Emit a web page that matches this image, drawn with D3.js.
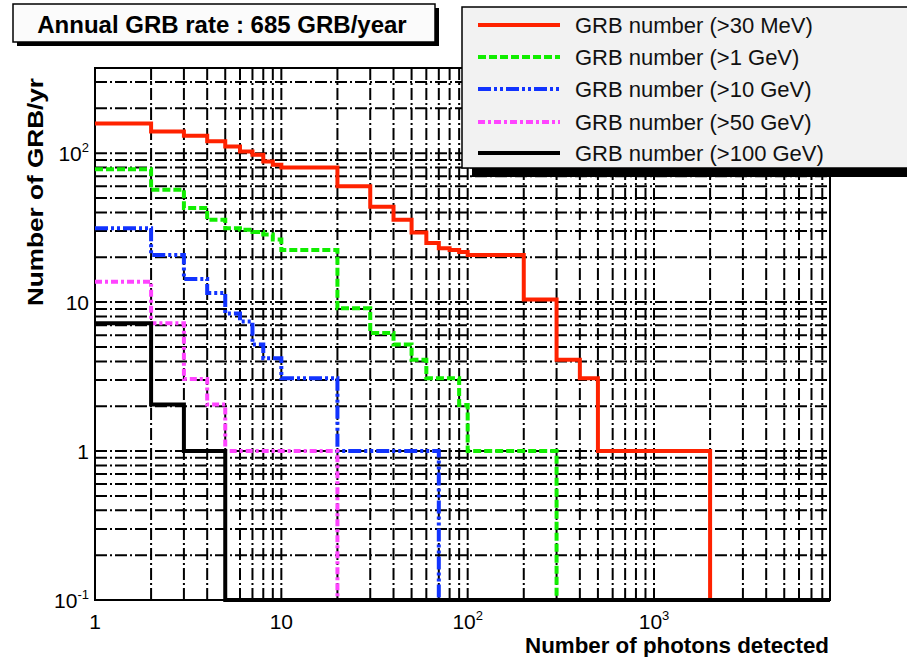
<!DOCTYPE html>
<html>
<head>
<meta charset="utf-8">
<script src="https://cdn.jsdelivr.net/npm/d3@7"></script>
<style>
  html, body { margin: 0; padding: 0; background: #ffffff; }
  svg { display: block; }
  text { font-family: "Liberation Sans", Arial, Helvetica, sans-serif; }
</style>
</head>
<body>
<svg id="chart" width="907" height="657"></svg>
<script>
// ---------------- data ----------------
const binEdges = [1,2,3,4,5,6,7,8,9,10,20,30,40,50,60,70,80,90,100,200,300,400,500,600,700,800,900,1000,2000];
const seriesNames = ["GRB number (>30 MeV)","GRB number (>1 GeV)","GRB number (>10 GeV)","GRB number (>50 GeV)","GRB number (>100 GeV)"];
const red30MeV   = [158,140,131,120,111,102.5,97.4,87.8,83.5, 80,60,43.6,35.7,29.3,24.9,23,22.4,21.7, 20.7,10.4,4.1,3.08,1,1,1,1,1, 1];
const green1GeV  = [78,56.7,42.8,35.7,31.3,30.6,29.5,28.4,26.3, 22.4,9.1,6.2,5.2,4.1,3.08,3.08,3.08,2.04, 1,1,0,0,0,0,0,0,0, 0];
const blue10GeV  = [31.3,20.7,14.3,11.5,8.4,7.4,5.2,4.2,4.2, 3.08,1,1,1,1,1,0,0,0, 0,0,0,0,0,0,0,0,0, 0];
const mag50GeV   = [13.7,7.2,3.05,2.05,1,1,1,1,1, 1,0,0,0,0,0,0,0,0, 0,0,0,0,0,0,0,0,0, 0];
const black100GeV= [7.2,2.05,1,1,0,0,0,0,0, 0,0,0,0,0,0,0,0,0, 0,0,0,0,0,0,0,0,0, 0];
const xTickLabels = [{v:1,t:"1",s:""},{v:10,t:"10",s:""},{v:100,t:"10",s:"2"},{v:1000,t:"10",s:"3"}];
const yTickLabels = [{v:100,t:"10",s:"2"},{v:10,t:"10",s:""},{v:1,t:"1",s:""},{v:0.1,t:"10",s:"-1"}];
const xDomain = [1, 8800];
const yDomain = [0.1, 373];

// ---------------- layout ----------------
const L = 95, R = 830, T = 68, B = 600;
const svg = d3.select("#chart");
const x = d3.scaleLog().domain(xDomain).range([L, R]);
const y = d3.scaleLog().domain(yDomain).range([B, T]);

// grid values: every 1..9 x decade
function gridVals(domain) {
  const out = [];
  for (let e = -2; e <= 5; e++) for (let k = 1; k <= 9; k++) {
    const v = k * Math.pow(10, e);
    if (v > domain[0] * 1.0001 && v < domain[1] * 0.9999) out.push(v);
  }
  return out;
}
const gridG = svg.append("g");
gridG.selectAll("line.gx").data(gridVals(xDomain)).join("line")
  .attr("x1", d => x(d)).attr("x2", d => x(d)).attr("y1", B).attr("y2", T)
  .attr("stroke", "#000").attr("stroke-width", 2).attr("stroke-dasharray", "12,3,2,3");
gridG.selectAll("line.gy").data(gridVals(yDomain)).join("line")
  .attr("y1", d => y(d)).attr("y2", d => y(d)).attr("x1", L).attr("x2", R)
  .attr("stroke", "#000").attr("stroke-width", 2).attr("stroke-dasharray", "12,3,2,3");

// frame
svg.append("rect").attr("x", L).attr("y", T).attr("width", R - L).attr("height", B - T)
  .attr("fill", "none").attr("stroke", "#000").attr("stroke-width", 2);

// histograms
const styles = [
  {data: red30MeV,    color: "#ff2200", dash: null},
  {data: green1GeV,   color: "#11ee00", dash: "8,3"},
  {data: blue10GeV,   color: "#1133ff", dash: "13,3,3,3,3,3"},
  {data: mag50GeV,    color: "#ff44ff", dash: "7,3,3,3"},
  {data: black100GeV, color: "#000000", dash: null}
];
const line = d3.line().x(d => x(d[0])).y(d => d[1]).curve(d3.curveStepAfter);
styles.forEach(s => {
  const pts = s.data.map((v, i) => [binEdges[i], v > 0 ? y(v) : B]);
  pts.push([binEdges[binEdges.length - 1], B]);
  pts.push([xDomain[1], B]);
  svg.append("path").attr("d", line(pts)).attr("fill", "none")
    .attr("stroke", s.color).attr("stroke-width", 4)
    .attr("stroke-dasharray", s.dash).attr("stroke-linejoin", "miter");
});

// x tick labels
xTickLabels.forEach(d => {
  const t = svg.append("text").attr("x", x(d.v)).attr("y", 629)
    .attr("text-anchor", "middle").attr("font-size", 21).attr("fill", "#000").text(d.t);
  if (d.s) t.append("tspan").attr("dy", -9).attr("font-size", 13).text(d.s);
});
// y tick labels
yTickLabels.forEach(d => {
  const t = svg.append("text").attr("x", 89).attr("y", y(d.v) + 8)
    .attr("text-anchor", "end").attr("font-size", 21).attr("fill", "#000").text(d.t);
  if (d.s) t.append("tspan").attr("dy", -9).attr("font-size", 13).text(d.s);
});

// axis titles
svg.append("text").attr("x", 829).attr("y", 653).attr("text-anchor", "end")
  .attr("font-size", 22).attr("font-weight", "bold")
  .attr("textLength", 304).attr("lengthAdjust", "spacingAndGlyphs").text("Number of photons detected");
svg.append("text").attr("transform", "translate(43,306) rotate(-90)").attr("text-anchor", "start")
  .attr("font-size", 22).attr("font-weight", "bold")
  .attr("textLength", 228).attr("lengthAdjust", "spacingAndGlyphs").text("Number of GRB/yr");

// title box
svg.append("rect").attr("x", 17).attr("y", 8).attr("width", 422).attr("height", 38).attr("fill", "#000");
svg.append("rect").attr("x", 13).attr("y", 4).attr("width", 422).attr("height", 38)
  .attr("fill", "#fbfbfb").attr("stroke", "#000").attr("stroke-width", 1.5);
svg.append("text").attr("x", 222).attr("y", 33).attr("text-anchor", "middle")
  .attr("font-size", 24).attr("font-weight", "bold").text("Annual GRB rate : 685 GRB/year");

// legend
svg.append("rect").attr("x", 472).attr("y", 17).attr("width", 460).attr("height", 160).attr("fill", "#000");
svg.append("rect").attr("x", 462).attr("y", 7).attr("width", 460).attr("height", 161)
  .attr("fill", "#f2f2f2").attr("stroke", "#000").attr("stroke-width", 1.5);
const legY = [25, 57, 89, 122, 153];
styles.forEach((s, i) => {
  svg.append("line").attr("x1", 478).attr("x2", 560).attr("y1", legY[i]).attr("y2", legY[i])
    .attr("stroke", s.color).attr("stroke-width", 4).attr("stroke-dasharray", s.dash);
  svg.append("text").attr("x", 575).attr("y", legY[i] + 8).attr("font-size", 22)
    .attr("fill", "#111").text(seriesNames[i]);
});
</script>
</body>
</html>
